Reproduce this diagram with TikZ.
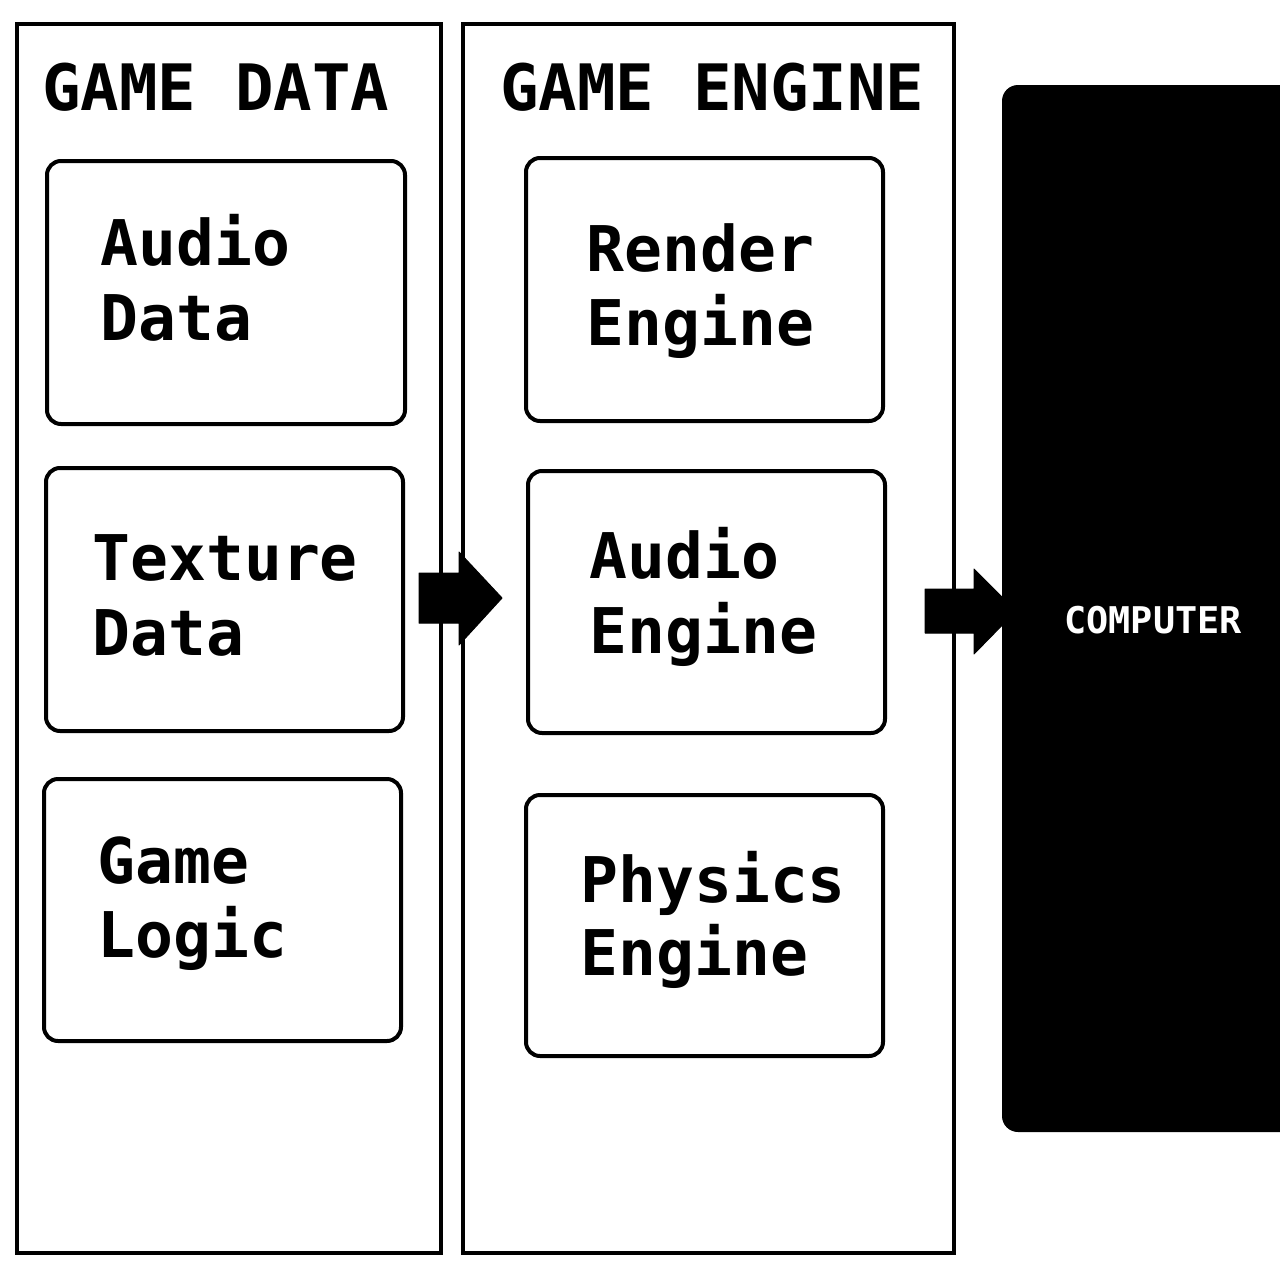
\documentclass[tikz,border=0pt]{standalone}
\usepackage{fontspec}
\newfontfamily\monob{DejaVu Sans Mono}[BoldFont={DejaVu Sans Mono Bold}]
\begin{document}
\begin{tikzpicture}[x=0.5pt,y=-0.5pt,
  panel/.style={draw=black,line width=2.2pt,fill=white},
  subbox/.style={draw=black,line width=2pt,rounded corners=7pt,fill=white},
  title/.style={anchor=base west,inner sep=0pt,font=\monob\bfseries\fontsize{32pt}{38pt}\selectfont},
  lbl/.style={anchor=base west,inner sep=0pt,font=\monob\bfseries\fontsize{31.5pt}{37pt}\selectfont},
  blockarrow/.style={fill=black,draw=black,line width=0.5pt,line join=round}]
\useasboundingbox (0,0) rectangle (1280,1280);
\fill[white] (0,0) rectangle (1280,1280);
% panels
\draw[panel] (17,24) rectangle (441,1253);
\draw[panel] (463,24) rectangle (954,1253);
\node[title] (t1) at (42,110) {GAME DATA};
\node[title] (t2) at (500,110) {GAME ENGINE};
% left boxes
\draw[subbox] (47,161) rectangle (405,424);
\node[lbl] (ad1) at (100,265) {Audio};
\node[lbl] (ad2) at (100,340) {Data};
\draw[subbox] (46,468) rectangle (403,731);
\node[lbl] (td1) at (92,580) {Texture};
\node[lbl] (td2) at (92,655) {Data};
\draw[subbox] (44,779) rectangle (401,1041);
\node[lbl] (gl1) at (97,883) {Game};
\node[lbl] (gl2) at (97,957) {Logic};
% right boxes
\draw[subbox] (526,158) rectangle (883,421);
\node[lbl] (re1) at (586,271) {Render};
\node[lbl] (re2) at (586,345) {Engine};
\draw[subbox] (528,471) rectangle (885,733);
\node[lbl] (ae1) at (589,578) {Audio};
\node[lbl] (ae2) at (589,653) {Engine};
\draw[subbox] (526,795) rectangle (883,1056);
\node[lbl] (pe1) at (580,902) {Physics};
\node[lbl] (pe2) at (580,975) {Engine};
% arrows
\coordinate (a1) at (419,598);
\fill[blockarrow] (a1) ++(0,-25) -- ++(40,0) -- ++(0,-21) -- (502,598) -- (459,645) -- ++(0,-22) -- (419,623) -- cycle;
\coordinate (a2) at (925,611);
\fill[blockarrow] (a2) ++(0,-22) -- (974,589) -- (974,569) -- (1016,611) -- (974,654) -- (974,633) -- (925,633) -- cycle;
% computer box
\fill[black,rounded corners=8pt] (1002,85) rectangle (1320,1132);
\node[anchor=base west,inner sep=0pt,text=white,font=\monob\bfseries\fontsize{18.4pt}{22pt}\selectfont] (comp) at (1064,633) {COMPUTER};
\end{tikzpicture}
\end{document}
